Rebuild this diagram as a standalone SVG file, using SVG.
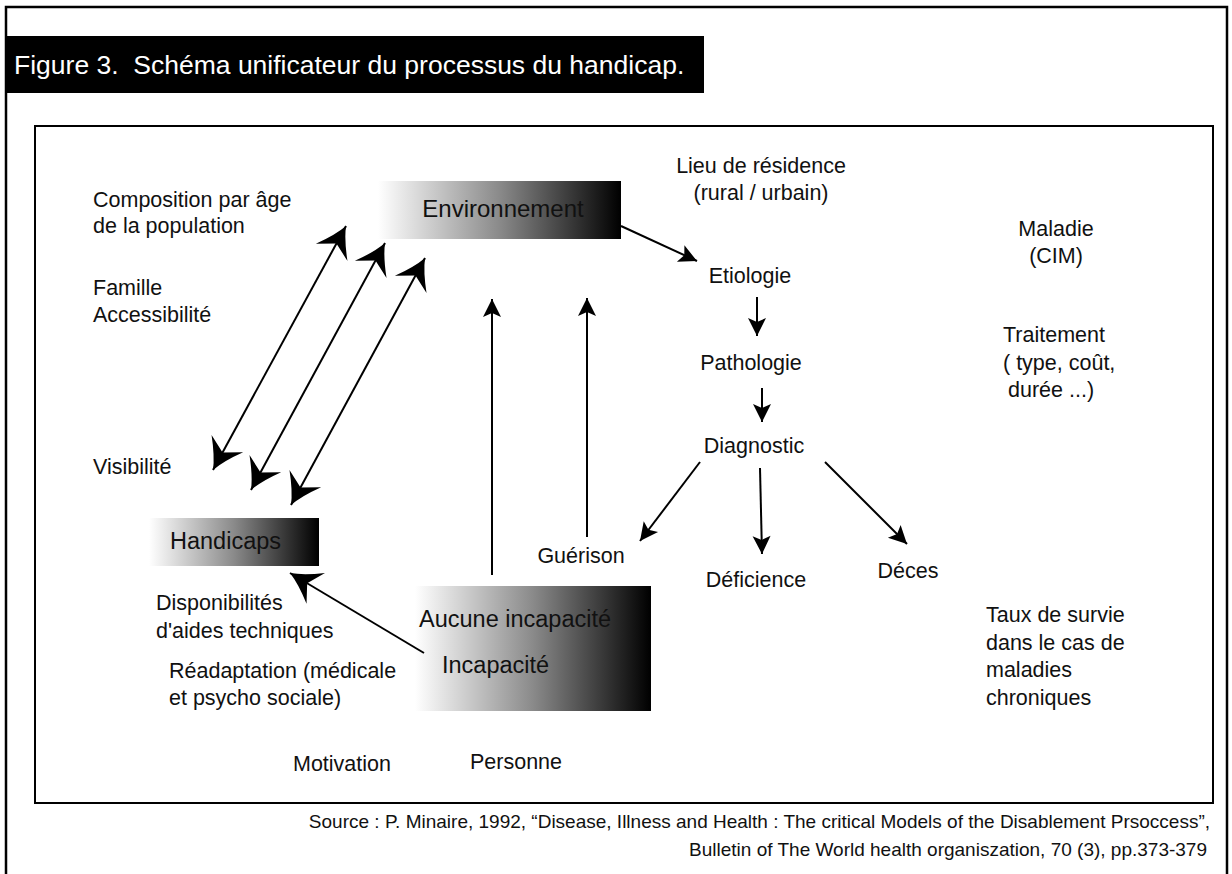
<svg xmlns="http://www.w3.org/2000/svg" width="1232" height="874" viewBox="0 0 1232 874">
<style>
.t{font-family:"Liberation Sans",Arial,sans-serif;font-size:21.5px;fill:#111}
.m{text-anchor:middle}
.b{font-size:23.5px}
.s{font-size:19px;text-anchor:end}
.c{stroke:#000;stroke-width:2;fill:none}
.frame{stroke:#000;stroke-width:2.5;fill:none}
</style>
<defs>
<linearGradient id="g" x1="0" y1="0" x2="1" y2="0">
<stop offset="0" stop-color="#ffffff"/>
<stop offset="0.5" stop-color="#8a8a8a"/>
<stop offset="1" stop-color="#000000"/>
</linearGradient>
<marker id="big" markerUnits="userSpaceOnUse" orient="auto-start-reverse" overflow="visible" refX="0" refY="0" markerWidth="40" markerHeight="40">
<path d="M0,0 Q-13,-5 -30,-18 L-20,0 L-30,18 Q-13,5 0,0 Z" fill="#000"/>
</marker>
<marker id="sm" markerUnits="userSpaceOnUse" orient="auto" overflow="visible" refX="0" refY="0" markerWidth="30" markerHeight="30">
<path d="M0,0 L-18,-9 L-14,0 L-18,9 Z" fill="#000"/>
</marker>
</defs>
<rect width="1232" height="874" fill="#fff"/>
<g id="frame">
<path class="frame" d="M6,880 L6,7 L1227,7 L1227,880"/>
<rect x="35" y="126" width="1178" height="677" fill="none" stroke="#000" stroke-width="2"/>
</g>
<g id="title">
<rect x="6" y="36" width="698" height="57" fill="#000"/>
<text class="t" x="14" y="74" xml:space="preserve" style="font-size:26.5px;fill:#fff">Figure 3.  Schéma unificateur du processus du handicap.</text>
</g>
<g id="environnement">
<rect x="378" y="181" width="243" height="58" fill="url(#g)"/>
<text class="t m" x="503" y="217" style="font-size:24px">Environnement</text>
</g>
<g id="handicaps">
<rect x="149" y="518" width="170" height="48" fill="url(#g)"/>
<text class="t b" x="170" y="549">Handicaps</text>
</g>
<g id="incapacite">
<rect x="415" y="586" width="236" height="125" fill="url(#g)"/>
<text class="t b" x="419" y="627">Aucune incapacité</text>
<text class="t b" x="442" y="673">Incapacité</text>
</g>
<g id="etiologie"><text class="t m" x="750" y="283">Etiologie</text></g>
<g id="pathologie"><text class="t m" x="751" y="370">Pathologie</text></g>
<g id="diagnostic"><text class="t m" x="754" y="453">Diagnostic</text></g>
<g id="guerison"><text class="t m" x="581" y="563">Guérison</text></g>
<g id="deficience"><text class="t m" x="756" y="587">Déficience</text></g>
<g id="deces"><text class="t m" x="908" y="578">Déces</text></g>
<g id="factors-left">
<text class="t" x="93" y="207">Composition par âge</text>
<text class="t" x="93" y="233">de la population</text>
<text class="t" x="93" y="295">Famille</text>
<text class="t" x="93" y="322">Accessibilité</text>
<text class="t" x="93" y="474">Visibilité</text>
<text class="t" x="156" y="610">Disponibilités</text>
<text class="t" x="156" y="638">d'aides techniques</text>
<text class="t" x="169" y="678">Réadaptation (médicale</text>
<text class="t" x="169" y="705">et psycho sociale)</text>
<text class="t" x="293" y="771">Motivation</text>
<text class="t" x="470" y="769">Personne</text>
</g>
<g id="factors-right">
<text class="t m" x="761" y="173">Lieu de résidence</text>
<text class="t m" x="761" y="200">(rural / urbain)</text>
<text class="t m" x="1056" y="236">Maladie</text>
<text class="t m" x="1056" y="263">(CIM)</text>
<text class="t" x="1003" y="342">Traitement</text>
<text class="t" x="1003" y="370">( type, coût,</text>
<text class="t" x="1008" y="397">durée ...)</text>
<text class="t" x="986" y="622">Taux de survie</text>
<text class="t" x="986" y="650">dans le cas de</text>
<text class="t" x="986" y="677">maladies</text>
<text class="t" x="986" y="705">chroniques</text>
</g>
<g id="source">
<text class="t s" x="1210" y="828">Source : P. Minaire, 1992, “Disease, Illness and Health : The critical Models of the Disablement Prsoccess”,</text>
<text class="t s" x="1207" y="856">Bulletin of The World health organiszation, 70 (3), pp.373-379</text>
</g>
<g id="connectors">
<line class="c" x1="213" y1="470" x2="346" y2="226" marker-start="url(#big)" marker-end="url(#big)"/>
<line class="c" x1="251" y1="490" x2="385" y2="243" marker-start="url(#big)" marker-end="url(#big)"/>
<line class="c" x1="291" y1="505" x2="425" y2="258" marker-start="url(#big)" marker-end="url(#big)"/>
<line class="c" x1="424" y1="653" x2="290" y2="573" marker-end="url(#big)"/>
<line class="c" x1="492" y1="575" x2="492" y2="299" marker-end="url(#sm)"/>
<line class="c" x1="587" y1="537" x2="587" y2="298" marker-end="url(#sm)"/>
<line class="c" x1="621" y1="226" x2="697" y2="261" marker-end="url(#sm)"/>
<line class="c" x1="757" y1="297" x2="757" y2="336" marker-end="url(#sm)"/>
<line class="c" x1="762" y1="388" x2="762" y2="422" marker-end="url(#sm)"/>
<line class="c" x1="700" y1="462" x2="640" y2="541" marker-end="url(#sm)"/>
<line class="c" x1="760" y1="468" x2="762" y2="554" marker-end="url(#sm)"/>
<line class="c" x1="825" y1="462" x2="907" y2="544" marker-end="url(#sm)"/>
</g>
</svg>
